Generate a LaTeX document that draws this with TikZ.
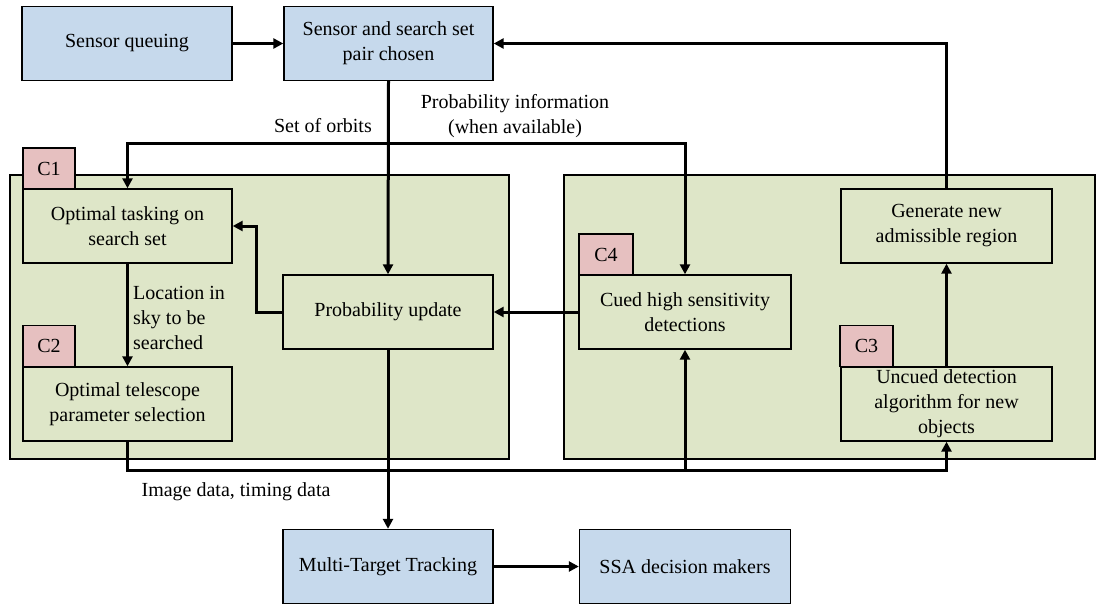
\documentclass[tikz,border=0pt]{standalone}
\usepackage{fontspec}
\setmainfont{Liberation Serif}
\usetikzlibrary{arrows.meta}
\definecolor{bluefill}{RGB}{198,217,236}
\definecolor{greenfill}{RGB}{222,230,200}
\definecolor{pinkfill}{RGB}{230,192,192}
\tikzset{
  box/.style={draw=black, line width=1.4pt, minimum height=74pt, inner sep=2pt, align=center, font=\fontsize{20}{25}\selectfont},
  bluebox/.style={box, fill=bluefill},
  greenbox/.style={box, fill=greenfill},
  tag/.style={draw=black, line width=1.4pt, fill=pinkfill, minimum width=53pt, minimum height=41pt, inner sep=0pt, font=\fontsize{20}{25}\selectfont},
  panel/.style={draw=black, line width=1.2pt, fill=greenfill},
  conn/.style={line width=3pt},
  arr/.style={conn, -{Triangle[length=10pt,width=10pt]}},
  lbl/.style={font=\fontsize{20}{25}\selectfont, inner sep=0pt},
}
\begin{document}
\begin{tikzpicture}[x=1pt,y=-1pt]
\useasboundingbox (0,0) rectangle (1097,605);
% panels
\path[panel] (10,175) rectangle (509,459);
\path[panel] (564,175) rectangle (1095,459);
% boxes
\node[bluebox, minimum width=210pt] (sq) at (127,43.5) {Sensor queuing};
\node[bluebox, minimum width=209pt] (pair) at (388.5,43.5) {Sensor and search set\\pair chosen};
\node[greenbox, minimum width=209pt] (opt) at (127.5,226) {Optimal tasking on\\search set};
\node[greenbox, minimum width=209pt] (tel) at (127.5,404) {Optimal telescope\\parameter selection};
\node[greenbox, minimum width=210pt] (pu) at (388,312) {Probability update};
\node[greenbox, minimum width=212pt] (cued) at (685,312) {Cued high sensitivity\\detections};
\node[greenbox, minimum width=211pt] (gen) at (946.5,226) {Generate new\\admissible region};
\node[greenbox, minimum width=211pt] (unc) at (946.5,404) {Uncued detection\\algorithm for new\\objects};
\node[bluebox, minimum width=210pt] (mtt) at (388,566.5) {Multi-Target Tracking};
\node[bluebox, minimum width=211pt] (ssa) at (685,566.5) {SSA decision makers};
% tags
\node[tag, minimum width=52pt] (c1) at (49,168.5) {C1};
\node[tag, minimum width=52pt] (c2) at (49,346) {C2};
\node[tag, minimum width=54pt] (c4) at (606,254.5) {C4};
\node[tag] (c3) at (866.5,346) {C3};
% helper coordinates
\coordinate (top) at (0,143);
\coordinate (bus) at (0,470);
% connectors
\draw[arr] (sq) -- (pair);
\draw[conn, {Triangle[length=10pt,width=10pt]}-{Triangle[length=10pt,width=10pt]}]
  (opt.north) -- (opt.north |- top) -- (cued.north |- top) -- (cued.north);
\draw[arr] (pair.south) -- (pu.north);
\draw[arr] (gen.north) |- (pair.east);
\draw[arr] (pu.west) -- ++(-26,0) |- (opt.east);
\draw[arr] (cued.west) -- (pu.east);
\draw[arr] (opt.south) -- (tel.north);
\draw[arr] (unc.north) -- (gen.south);
\draw[arr] (tel.south) |- (unc.south |- bus) -- (unc.south);
\draw[arr] (cued.south |- bus) -- (cued.south);
\draw[arr] (pu.south) -- (mtt.north);
\draw[arr] (mtt) -- (ssa);
% labels
\node[lbl, anchor=east] (l1) at (372,126) {Set of orbits};
\node[lbl, align=center] (l2) at (515,116) {Probability information\\(when available)};
\node[lbl, align=left, anchor=west] (l3) at (133,318) {Location in\\sky to be\\searched};
\node[lbl] (l4) at (236,492) {Image data, timing data};
\end{tikzpicture}
\end{document}
